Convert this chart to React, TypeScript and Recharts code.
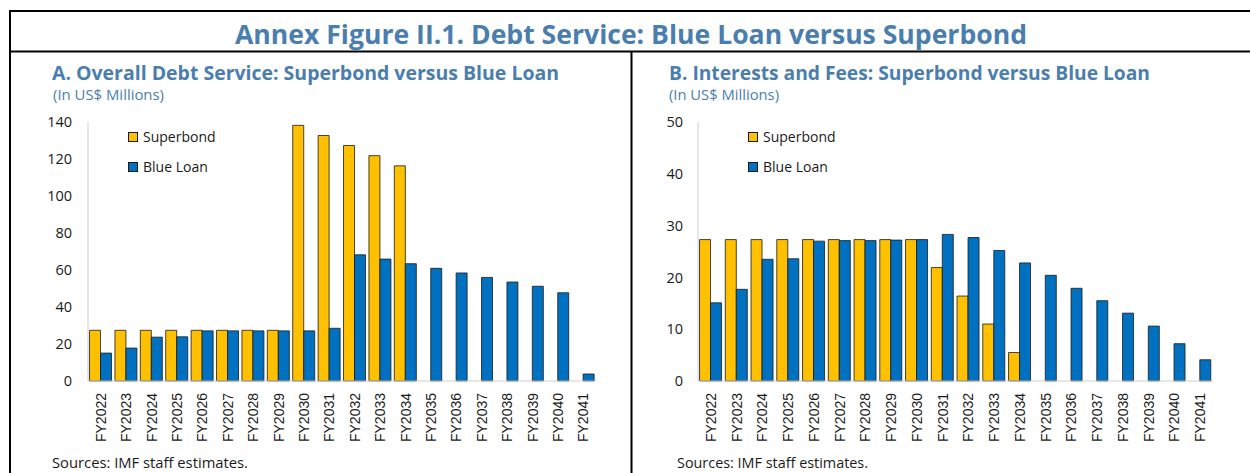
import React from "react";
import { BarChart, Bar, XAxis, YAxis, Legend } from "recharts";

const years = [
  "FY2022", "FY2023", "FY2024", "FY2025", "FY2026", "FY2027", "FY2028", "FY2029", "FY2030", "FY2031",
  "FY2032", "FY2033", "FY2034", "FY2035", "FY2036", "FY2037", "FY2038", "FY2039", "FY2040", "FY2041",
];

const superbondTotal = [27.4, 27.4, 27.4, 27.4, 27.4, 27.4, 27.4, 27.4, 138.2, 132.7, 127.3, 121.8, 116.3, null, null, null, null, null, null, null];
const blueLoanTotal = [15.1, 17.8, 23.7, 23.9, 27.1, 27.1, 27.1, 27.1, 27.1, 28.5, 68.2, 65.9, 63.4, 60.9, 58.4, 56.0, 53.5, 51.2, 47.7, 3.8];

const superbondInterest = [27.3, 27.3, 27.3, 27.3, 27.3, 27.3, 27.3, 27.3, 27.3, 21.9, 16.4, 11.0, 5.5, null, null, null, null, null, null, null];
const blueLoanInterest = [15.1, 17.7, 23.5, 23.6, 27.0, 27.1, 27.1, 27.2, 27.3, 28.3, 27.7, 25.2, 22.8, 20.4, 17.9, 15.5, 13.1, 10.6, 7.2, 4.1];

const ticksA = [0, 20, 40, 60, 80, 100, 120, 140];
const ticksB = [0, 10, 20, 30, 40, 50];

const seriesNames = ["Superbond", "Blue Loan"];
const seriesColors = ["#FFC000", "#0070C0"];

const mainTitle = "Annex Figure II.1. Debt Service: Blue Loan versus Superbond";
const titleA = "A. Overall Debt Service: Superbond versus Blue Loan";
const titleB = "B. Interests and Fees: Superbond versus Blue Loan";
const unitsText = "(In US$ Millions)";
const sourcesText = "Sources: IMF staff estimates.";

const dataA = years.map((y, i) => ({ year: y, superbond: superbondTotal[i], blueLoan: blueLoanTotal[i] }));
const dataB = years.map((y, i) => ({ year: y, superbond: superbondInterest[i], blueLoan: blueLoanInterest[i] }));

const BLUE_TEXT = "#4A7EAE";
const GRID = "#cfcfcf";
const FONT = "'Open Sans', 'Noto Sans', sans-serif";

const XTick = (props: any) => {
  const { x, y, payload } = props;
  return (
    <g transform={`translate(${x},${y})`}>
      <text
        transform="rotate(-90)"
        textAnchor="end"
        dy="0.36em"
        fontSize={14}
        fontFamily="'Liberation Sans', Arial, sans-serif"
        fill="#1a1a1a"
      >
        {payload.value}
      </text>
    </g>
  );
};

const LegendBox = () => (
  <div style={{ fontFamily: FONT, fontSize: 14, color: "#1a1a1a" }}>
    {seriesNames.map((n, i) => (
      <div key={n} style={{ display: "flex", alignItems: "center", height: 30 }}>
        <div
          style={{
            width: 10,
            height: 10,
            boxSizing: "border-box",
            border: "1px solid #1a1a1a",
            background: seriesColors[i],
            marginRight: 5,
          }}
        />
        <span>{n}</span>
      </div>
    ))}
  </div>
);

type PanelProps = {
  left: number;
  width: number;
  data: any[];
  ticks: number[];
  yMax: number;
  yWidth: number;
  rightMargin: number;
  tickMargin: number;
  legendLeft: number;
};

const Panel = ({ left, width, data, ticks, yMax, yWidth, rightMargin, tickMargin, legendLeft }: PanelProps) => (
  <div style={{ position: "absolute", left, top: 100, width, height: 360 }}>
    <BarChart
      width={width}
      height={360}
      data={data}
      margin={{ top: 22, right: rightMargin, bottom: 0, left: 0 }}
      barCategoryGap="6%"
      barGap={0}
    >
      <XAxis
        dataKey="year"
        interval={0}
        height={79}
        tickLine={false}
        tickSize={6}
        tickMargin={6}
        axisLine={{ stroke: GRID }}
        tick={<XTick />}
      />
      <XAxis xAxisId="top" dataKey="year" orientation="top" height={0} tick={false} tickLine={false} axisLine={{ stroke: GRID }} />
      <YAxis
        domain={[0, yMax]}
        ticks={ticks}
        width={yWidth}
        tickLine={false}
        tickSize={6}
        tickMargin={tickMargin}
        axisLine={{ stroke: GRID }}
        tick={{ fontSize: 14.5, fontFamily: FONT, fill: "#1a1a1a" }}
      />
      <YAxis yAxisId="right" orientation="right" width={0} tick={false} tickLine={false} axisLine={{ stroke: GRID }} />
      <Legend
        layout="vertical"
        align="center"
        verticalAlign="middle"
        content={<LegendBox />}
        wrapperStyle={{ left: legendLeft, top: 21.7, width: "auto", height: "auto" }}
      />
      <Bar dataKey="superbond" name={seriesNames[0]} fill={seriesColors[0]} stroke="#1a1a1a" strokeWidth={0.8} isAnimationActive={false} />
      <Bar dataKey="blueLoan" name={seriesNames[1]} fill={seriesColors[1]} stroke="#1a1a1a" strokeWidth={0.8} isAnimationActive={false} />
    </BarChart>
  </div>
);

export default function App() {
  return (
    <div style={{ position: "absolute", left: 0, top: 0, width: 1250, height: 473, background: "#fff", overflow: "hidden" }}>
      <svg width={1250} height={473} style={{ position: "absolute", left: 0, top: 0 }}>
        <line x1={9} y1={11} x2={1250} y2={11} stroke="#000" strokeWidth={2} />
        <line x1={9} y1={51.5} x2={1250} y2={51.5} stroke="#000" strokeWidth={2} />
        <line x1={10} y1={10} x2={10} y2={473} stroke="#000" strokeWidth={2} />
        <line x1={631.5} y1={51} x2={631.5} y2={473} stroke="#000" strokeWidth={2} />
        <text x={235} y={44} fontSize={27} fontWeight={700} fontFamily={FONT} fill={BLUE_TEXT} textLength={792} lengthAdjust="spacingAndGlyphs">
          {mainTitle}
        </text>
        <text x={52} y={80} fontSize={20} fontWeight={700} fontFamily={FONT} fill={BLUE_TEXT} textLength={507} lengthAdjust="spacingAndGlyphs">
          {titleA}
        </text>
        <text x={669} y={80} fontSize={20} fontWeight={700} fontFamily={FONT} fill={BLUE_TEXT} textLength={481} lengthAdjust="spacingAndGlyphs">
          {titleB}
        </text>
        <text x={53} y={100} fontSize={14} fontFamily={FONT} fill={BLUE_TEXT} textLength={111} lengthAdjust="spacingAndGlyphs">
          {unitsText}
        </text>
        <text x={669} y={100} fontSize={14} fontFamily={FONT} fill={BLUE_TEXT} textLength={110} lengthAdjust="spacingAndGlyphs">
          {unitsText}
        </text>
        <text x={52} y={468} fontSize={14.5} fontFamily={FONT} fill="#1a1a1a" textLength={196} lengthAdjust="spacingAndGlyphs">
          {sourcesText}
        </text>
        <text x={677} y={468} fontSize={14.5} fontFamily={FONT} fill="#1a1a1a" textLength={191} lengthAdjust="spacingAndGlyphs">
          {sourcesText}
        </text>
      </svg>
      <Panel left={10} width={621} data={dataA} ticks={ticksA} yMax={140} yWidth={78} rightMargin={35} tickMargin={10} legendLeft={118} />
      <Panel left={631} width={619} data={dataB} ticks={ticksB} yMax={50} yWidth={67} rightMargin={37} tickMargin={9} legendLeft={117} />
    </div>
  );
}
